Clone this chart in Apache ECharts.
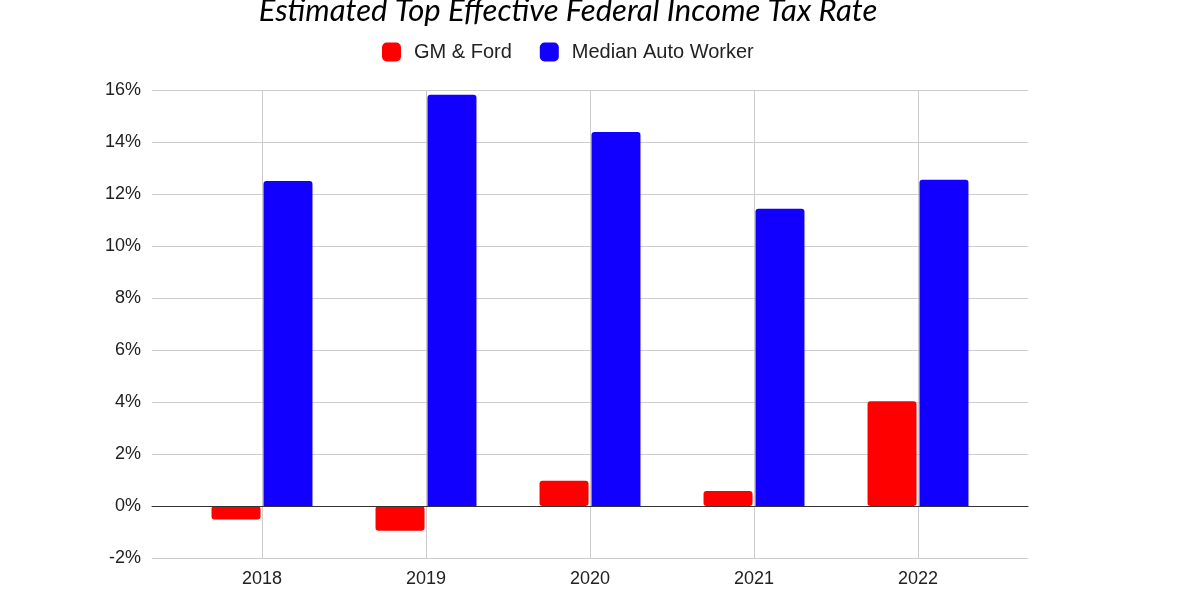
<!DOCTYPE html>
<html>
<head>
<meta charset="utf-8">
<script src="https://cdn.jsdelivr.net/npm/echarts@6/dist/echarts.min.js"></script>
<style>html,body{margin:0;padding:0;background:#fff}#c{width:1185px;height:600px}</style>
</head>
<body>
<div id="c"></div>
<script>
const categories = ['2018', '2019', '2020', '2021', '2022'];
const gmFord = [-0.52, -0.95, 0.97, 0.58, 4.03];
const medianWorker = [12.5, 15.82, 14.38, 11.43, 12.55];
const yTicks = { min: -2, max: 16, interval: 2 };

const chart = echarts.init(document.getElementById('c'), null, { renderer: 'canvas' });
const font = "'Liberation Sans', Arial, sans-serif";
chart.setOption({
  animation: false,
  backgroundColor: '#fff',
  title: {
    text: 'Estimated Top Effective Federal Income Tax Rate',
    left: 563, textAlign: 'center', top: -10,
    textStyle: { fontFamily: 'Lato', fontStyle: 'italic', fontWeight: 'normal', fontSize: 31, color: '#000' }
  },
  legend: {
    left: 377, top: 37,
    itemWidth: 19, itemHeight: 19, itemGap: 28,
    icon: 'roundRect',
    textStyle: { fontFamily: font, fontSize: 20, color: '#222', padding: [0, 0, 0, 8] },
    data: ['GM & Ford', 'Median Auto Worker']
  },
  grid: [
    { left: 152, right: 157, top: 90, bottom: 42 },
    { left: 262, right: 267, top: 90, bottom: 42 }
  ],
  xAxis: [
    { type: 'value', gridIndex: 0, min: 0, max: 1, z: 5,
      axisLine: { show: true, onZero: true, lineStyle: { color: '#333', width: 1 } },
      axisTick: { show: false }, axisLabel: { show: false }, splitLine: { show: false } },
    { type: 'category', gridIndex: 1, data: categories, boundaryGap: false,
      axisLine: { show: false }, axisTick: { show: false },
      axisLabel: { fontFamily: font, fontSize: 18, color: '#222', margin: 12 },
      splitLine: { show: true, lineStyle: { color: '#ccc', width: 1 } } }
  ],
  yAxis: [
    { type: 'value', gridIndex: 0, min: yTicks.min, max: yTicks.max, interval: yTicks.interval,
      axisLine: { show: false }, axisTick: { show: false },
      axisLabel: { formatter: '{value}%', fontFamily: font, fontSize: 18, color: '#222', margin: 11 },
      splitLine: { show: true, lineStyle: { color: '#ccc', width: 1 } } },
    { type: 'value', gridIndex: 1, min: yTicks.min, max: yTicks.max, interval: yTicks.interval,
      show: false, splitLine: { show: false } }
  ],
  series: [
    { name: 'GM & Ford', type: 'bar', xAxisIndex: 1, yAxisIndex: 1, data: gmFord,
      clip: false, barWidth: 49, barGap: '6%',
      itemStyle: { color: '#ff0000', borderRadius: 3 } },
    { name: 'Median Auto Worker', type: 'bar', xAxisIndex: 1, yAxisIndex: 1, data: medianWorker,
      clip: false, barWidth: 49, barGap: '6%',
      itemStyle: { color: '#1200ff', borderRadius: [3, 3, 0, 0] } }
  ]
});
</script>
</body>
</html>
